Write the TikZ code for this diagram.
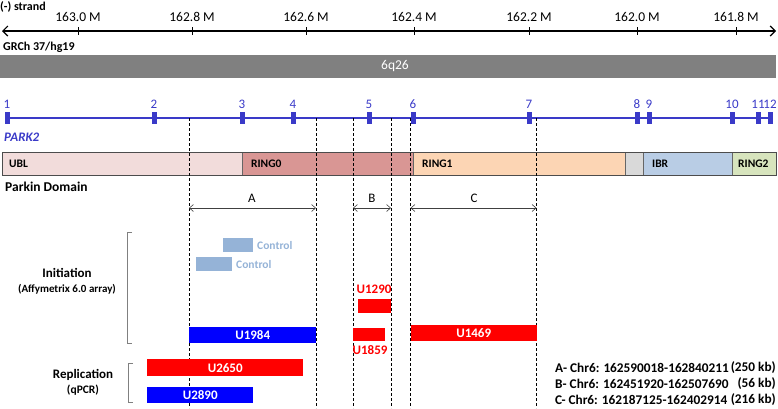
\documentclass[tikz,border=0pt]{standalone}
\usepackage{fontspec}
\setmainfont{Carlito}
\usetikzlibrary{arrows.meta}
\definecolor{exonblue}{HTML}{3A3AC8}
\definecolor{bandgray}{HTML}{808080}
\definecolor{ublc}{HTML}{F2DCDB}
\definecolor{ringzc}{HTML}{D99694}
\definecolor{ringoc}{HTML}{FCD5B4}
\definecolor{linkc}{HTML}{D9D9D9}
\definecolor{ibrc}{HTML}{B9CDE5}
\definecolor{ringtc}{HTML}{D7E4BD}
\definecolor{ctrlc}{HTML}{95B3D7}
\definecolor{pred}{HTML}{FF0000}
\definecolor{pblue}{HTML}{0000FF}
\definecolor{dimgray}{HTML}{404040}
\definecolor{brgray}{HTML}{808080}
\begin{document}
\begin{tikzpicture}[x=1pt,y=-1pt,
  lbl/.style={inner sep=0pt,font=\fontsize{13.5}{15}\selectfont},
  blbl/.style={inner sep=0pt,font=\bfseries\fontsize{13}{15}\selectfont},
  exnum/.style={inner sep=0pt,text=exonblue,font=\fontsize{13}{14}\selectfont},
  exonbox/.style={fill=exonblue,minimum width=5pt,minimum height=12pt,inner sep=0pt},
  seg/.style={draw=black!60,line width=0.6pt,minimum height=23pt,anchor=north west,inner sep=0pt},
  seglbl/.style={inner sep=0pt,anchor=west,font=\bfseries\fontsize{11.5}{13}\selectfont},
  bar/.style={anchor=north west,inner sep=0pt,minimum height=16pt},
  bartext/.style={inner sep=0pt,text=white,font=\bfseries\fontsize{13}{15}\selectfont},
  dashln/.style={dashed,black,line width=0.6pt,dash pattern=on 3pt off 2pt},
  dimarrow/.style={dimgray,line width=0.6pt,{Straight Barb[length=4pt,width=7pt]}-{Straight Barb[length=4pt,width=7pt]}},
  dimlbl/.style={inner sep=0pt,font=\fontsize{13}{15}\selectfont},
  leg/.style={inner sep=0pt,font=\bfseries\fontsize{13.3}{15}\selectfont},
  brk/.style={brgray,line width=1pt}
]
\useasboundingbox (0,0) rectangle (778,408);

% ---- strand axis
\node[inner sep=0pt,anchor=west,font=\bfseries\fontsize{12}{14}\selectfont] (strand) at (0,7) {(-) strand};
\coordinate (axL) at (2,31);
\coordinate (axR) at (776,31);
\draw[line width=1.2pt,{Straight Barb[length=5pt,width=10pt]}-{Straight Barb[length=5pt,width=10pt]}] (axL) -- (axR);
\foreach \x/\t [count=\i] in {78/163.0 M,192/162.8 M,306/162.6 M,414/162.4 M,529/162.2 M,637/162.0 M,736/161.8 M}{
  \node[lbl] (tl\i) at (\x,16.5) {\t};
  \draw[line width=1pt] (\x,27) -- (\x,35);
}

% ---- GRCh band
\node[inner sep=0pt,anchor=west,font=\bfseries\fontsize{12}{14}\selectfont] (grch) at (3,47) {GRCh 37/hg19};
\node[fill=bandgray,minimum width=776pt,minimum height=23pt,anchor=north west,inner sep=0pt] (band) at (0,55) {};
\node[inner sep=0pt,text=white,font=\fontsize{13.5}{15}\selectfont] (bandlbl) at (395,66.5) {6q26};

% ---- exons
\foreach \x [count=\i] in {7,154,242,293,369,413,529,637,649,732,758,770}{
  \node[exonbox] (e\i) at (\x,118) {};
}
\draw[exonblue,line width=1.3pt] (e1.center) -- (e12.center);
\foreach \x/\n in {7/1,154/2,242/3,293/4,369/5,413/6,529/7,637/8,649/9,732/10,758/11,770/12}{
  \node[exnum] (en\n) at (\x,104) {\n};
}
\node[inner sep=0pt,anchor=west,text=exonblue,font=\bfseries\itshape\fontsize{13}{14}\selectfont] (park) at (4,137) {PARK2};

% ---- domains
\node[seg,fill=ublc,minimum width=240pt] (ubl) at (2,152) {};
\node[seg,fill=ringzc,minimum width=171pt] (ring0) at (242,152) {};
\node[seg,fill=ringoc,minimum width=212pt] (ring1) at (413,152) {};
\node[seg,fill=linkc,minimum width=18pt] (link) at (625,152) {};
\node[seg,fill=ibrc,minimum width=89pt] (ibr) at (643,152) {};
\node[seg,fill=ringtc,minimum width=44pt] (ring2) at (732,152) {};
\draw[black!70,line width=0.8pt] (ubl.north west) rectangle (ring2.south east);
\node[seglbl] (ublt) at (9,163.5) {UBL};
\node[seglbl] (ring0t) at (251,163.5) {RING0};
\node[seglbl] (ring1t) at (422,163.5) {RING1};
\node[seglbl] (ibrt) at (652,163.5) {IBR};
\node[seglbl] (ring2t) at (738,163.5) {RING2};
\node[inner sep=0pt,anchor=west,font=\bfseries\fontsize{13.5}{15}\selectfont] (pd) at (5,187) {Parkin Domain};

% ---- dashed guides
\foreach \x [count=\i] in {189,316,353,391,410.5,536.5}{
  \coordinate (dt\i) at (\x,118);
  \coordinate (db\i) at (\x,408);
  \draw[dashln] (dt\i) -- (db\i);
}

% ---- dimension arrows
\coordinate (a1) at (189,208); \coordinate (a2) at (316,208);
\coordinate (b1) at (353,208); \coordinate (b2) at (391,208);
\coordinate (c1) at (410.5,208); \coordinate (c2) at (536.5,208);
\draw[dimarrow] (a1) -- (a2);
\draw[dimarrow] (b1) -- (b2);
\draw[dimarrow] (c1) -- (c2);
\node[dimlbl] (la) at (252,198) {A};
\node[dimlbl] (lb) at (372,198) {B};
\node[dimlbl] (lc) at (474,198) {C};

% ---- brackets
\coordinate (i1) at (132,232); \coordinate (i2) at (127,232);
\coordinate (i3) at (127,343); \coordinate (i4) at (132,343);
\draw[brk] (i1) -- (i2) -- (i3) -- (i4);
\coordinate (r1) at (133,363); \coordinate (r2) at (128,363);
\coordinate (r3) at (128,402); \coordinate (r4) at (133,402);
\draw[brk] (r1) -- (r2) -- (r3) -- (r4);
\node[blbl] (init) at (67,273) {Initiation};
\node[inner sep=0pt,font=\bfseries\fontsize{11}{12}\selectfont] (affy) at (67,289) {(Affymetrix 6.0 array)};
\node[blbl] (repl) at (83,375) {Replication};
\node[inner sep=0pt,font=\bfseries\fontsize{11.5}{13}\selectfont] (qpcr) at (83,390) {(qPCR)};

% ---- controls
\node[bar,fill=ctrlc,minimum width=30pt,minimum height=14pt] (ctl1) at (223,238) {};
\node[inner sep=0pt,anchor=west,text=ctrlc,font=\bfseries\fontsize{11.5}{13}\selectfont] (ctl1t) at (257,245) {Control};
\node[bar,fill=ctrlc,minimum width=36pt,minimum height=14pt] (ctl2) at (196,257) {};
\node[inner sep=0pt,anchor=west,text=ctrlc,font=\bfseries\fontsize{11.5}{13}\selectfont] (ctl2t) at (236,264) {Control};

% ---- samples
\node[bar,fill=pred,minimum width=33pt,minimum height=14pt] (u1290) at (358,299) {};
\node[inner sep=0pt,text=pred,font=\bfseries\fontsize{13}{15}\selectfont] (u1290t) at (374,289) {U1290};
\node[bar,fill=pblue,minimum width=127pt] (u1984) at (189,327) {};
\node[bartext] (u1984t) at (u1984.center) {U1984};
\node[bar,fill=pred,minimum width=32pt,minimum height=13pt] (u1859) at (353,328) {};
\node[inner sep=0pt,text=pred,font=\bfseries\fontsize{13}{15}\selectfont] (u1859t) at (370,350) {U1859};
\node[bar,fill=pred,minimum width=126pt] (u1469) at (410.5,325) {};
\node[bartext] (u1469t) at (u1469.center) {U1469};
\node[bar,fill=pred,minimum width=156pt,minimum height=17pt] (u2650) at (147,359) {};
\node[bartext] (u2650t) at (u2650.center) {U2650};
\node[bar,fill=pblue,minimum width=106pt] (u2890) at (147,387) {};
\node[bartext] (u2890t) at (u2890.center) {U2890};

% ---- region legend
\node[leg,anchor=west] (ra) at (555,368) {A- Chr6: 162590018-162840211};
\node[leg,anchor=east] (rak) at (776,368) {(250 kb)};
\node[leg,anchor=west] (rb) at (555,384) {B- Chr6: 162451920-162507690};
\node[leg,anchor=east] (rbk) at (776,384) {(56 kb)};
\node[leg,anchor=west] (rc) at (555,400) {C- Chr6: 162187125-162402914};
\node[leg,anchor=east] (rck) at (776,400) {(216 kb)};
\end{tikzpicture}
\end{document}
